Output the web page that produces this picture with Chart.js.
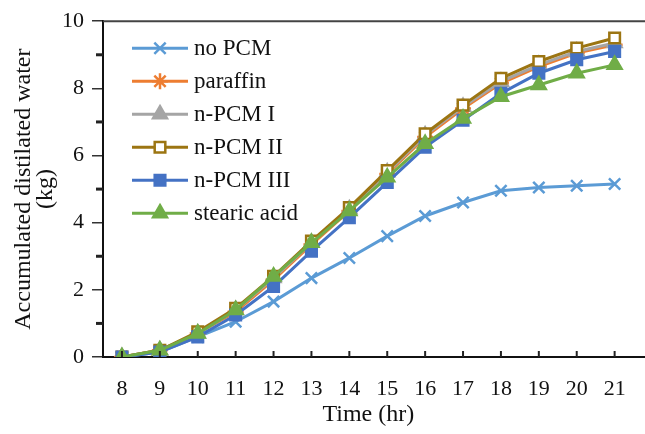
<!DOCTYPE html>
<html>
<head>
<meta charset="utf-8">
<script src="https://cdn.jsdelivr.net/npm/chart.js@4/dist/chart.umd.min.js"></script>
<style>
  html, body { margin: 0; padding: 0; background: #fff; }
  #wrap { width: 645px; height: 434px; }
</style>
</head>
<body>
<div id="wrap"><canvas id="chart"></canvas></div>
<script>
const hours = ['8', '9', '10', '11', '12', '13', '14', '15', '16', '17', '18', '19', '20', '21'];

const noPCM      = [0, 0.15, 0.6, 1.05, 1.65, 2.35, 2.95, 3.6, 4.2, 4.6, 4.95, 5.05, 5.1, 5.15];
const paraffin   = [0, 0.2, 0.7, 1.35, 2.3, 3.35, 4.35, 5.45, 6.55, 7.4, 8.15, 8.65, 9.05, 9.3];
const nPCM1      = [0, 0.2, 0.7, 1.4, 2.35, 3.4, 4.4, 5.5, 6.6, 7.45, 8.2, 8.7, 9.1, 9.35];
const nPCM2      = [0, 0.2, 0.75, 1.45, 2.4, 3.45, 4.45, 5.55, 6.65, 7.5, 8.3, 8.8, 9.2, 9.5];
const nPCM3      = [0, 0.15, 0.6, 1.25, 2.1, 3.15, 4.15, 5.2, 6.25, 7.05, 7.85, 8.45, 8.85, 9.1];
const stearic    = [0, 0.2, 0.7, 1.4, 2.4, 3.4, 4.35, 5.35, 6.35, 7.1, 7.75, 8.1, 8.45, 8.7];

const yTicks = [0, 2, 4, 6, 8, 10];

const serif = '"Liberation Serif", "DejaVu Serif", serif';

function series(label, data, color, style, fill, radius, order) {
  return {
    label: label,
    data: data,
    borderColor: color,
    backgroundColor: color,
    borderWidth: 3,
    pointStyle: style,
    pointRadius: radius,
    pointBorderColor: color,
    pointBackgroundColor: fill,
    pointBorderWidth: 2.5,
    tension: 0,
    order: order
  };
}

// ticks, frame and legend drawn the Excel way
const excelBits = {
  id: 'excelBits',
  afterDraw(chart) {
    const ctx = chart.ctx;
    const x = chart.scales.x, y = chart.scales.y;
    const area = chart.chartArea;
    ctx.save();
    ctx.strokeStyle = '#222';
    ctx.lineWidth = 2;
    // x ticks pointing up
    hours.forEach((h, i) => {
      const px = x.getPixelForValue(i);
      ctx.beginPath();
      ctx.moveTo(px, area.bottom);
      ctx.lineTo(px, area.bottom - 6);
      ctx.stroke();
    });
    // minor y ticks, short and thick
    [1, 3, 5, 7, 9].forEach(v => {
      const py = y.getPixelForValue(v);
      ctx.lineWidth = 3;
      ctx.beginPath();
      ctx.moveTo(area.left - 7, py);
      ctx.lineTo(area.left, py);
      ctx.stroke();
    });
    // top frame line and bottom axis to the edge
    ctx.lineWidth = 2;
    ctx.strokeStyle = '#444';
    ctx.beginPath();
    ctx.moveTo(area.left, y.getPixelForValue(10));
    ctx.lineTo(chart.width, y.getPixelForValue(10));
    ctx.stroke();
    ctx.strokeStyle = '#111';
    ctx.beginPath();
    ctx.moveTo(area.right, area.bottom);
    ctx.lineTo(chart.width, area.bottom);
    ctx.stroke();

    // legend
    const lx = area.left + 29, tx = area.left + 91;
    let ly = area.top + 27;
    ctx.font = '23px ' + serif;
    ctx.textBaseline = 'middle';
    ctx.textAlign = 'left';
    chart.data.datasets.forEach(ds => {
      ctx.strokeStyle = ds.borderColor;
      ctx.lineWidth = 3;
      ctx.beginPath();
      ctx.moveTo(lx, ly);
      ctx.lineTo(lx + 56, ly);
      ctx.stroke();
      ctx.fillStyle = ds.pointBackgroundColor;
      ctx.strokeStyle = ds.pointBorderColor;
      ctx.lineWidth = ds.pointBorderWidth;
      Chart.helpers.drawPoint(ctx, { pointStyle: ds.pointStyle, radius: ds.pointRadius, borderWidth: ds.pointBorderWidth, rotation: 0 }, lx + 28, ly);
      ctx.fillStyle = '#111';
      ctx.fillText(ds.label, tx, ly + 1);
      ly += 33;
    });
    ctx.restore();
  }
};

new Chart(document.getElementById('chart').getContext('2d'), {
  type: 'line',
  data: {
    labels: hours,
    datasets: [
      series('no PCM', noPCM, '#5B9BD5', 'crossRot', '#5B9BD5', 8, 6),
      series('paraffin', paraffin, '#ED7D31', 'star', '#ED7D31', 8, 5),
      series('n-PCM I', nPCM1, '#A5A5A5', 'triangle', '#A5A5A5', 8, 4),
      series('n-PCM II', nPCM2, '#9C7512', 'rect', '#ffffff', 7.5, 3),
      series('n-PCM III', nPCM3, '#4472C4', 'rect', '#4472C4', 7.5, 2),
      series('stearic acid', stearic, '#70AD47', 'triangle', '#70AD47', 8, 1)
    ]
  },
  options: {
    responsive: true,
    maintainAspectRatio: false,
    animation: false,
    layout: { padding: { top: 21, right: 9, left: 0, bottom: 0 } },
    plugins: {
      legend: { display: false },
      tooltip: { enabled: false }
    },
    scales: {
      x: {
        offset: true,
        afterFit(scale) { scale.height = 77; },
        grid: { display: false, drawTicks: false },
        border: { display: true, color: '#111', width: 2 },
        ticks: { color: '#111', padding: 19, font: { family: serif, size: 22 }, maxRotation: 0 },
        title: { display: true, text: 'Time (hr)', color: '#111', font: { family: serif, size: 24 }, padding: { top: 0, bottom: 5 } }
      },
      y: {
        min: 0,
        max: 10,
        afterFit(scale) { scale.width = 103; },
        afterBuildTicks(scale) { scale.ticks = yTicks.map(v => ({ value: v })); },
        grid: { drawOnChartArea: false, drawTicks: true, tickLength: 11, color: '#333', lineWidth: 1.5 },
        border: { display: true, color: '#111', width: 2 },
        ticks: { color: '#111', padding: 8, font: { family: serif, size: 22 } },
        title: { display: true, text: ['Accumulated distilated water', '(kg)'], color: '#111', font: { family: serif, size: 24, lineHeight: 0.9 }, padding: { top: 13, bottom: 0 } }
      }
    }
  },
  plugins: [excelBits]
});
</script>
</body>
</html>
